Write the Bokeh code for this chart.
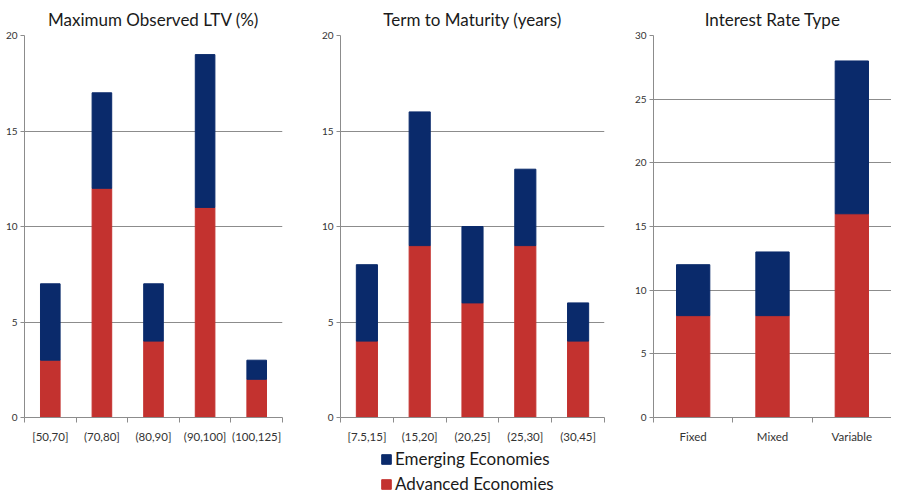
from bokeh.plotting import figure
from bokeh.models import (FactorRange, Range1d, LinearAxis, CategoricalAxis, FixedTicker,
                          SingleIntervalTicker, ColumnDataSource, Legend, LegendItem)
from bokeh.layouts import column, row
from bokeh.embed import file_html
from bokeh.resources import INLINE

# ---------------- data ----------------
ltv_cats = ["[50,70]", "(70,80]", "(80,90]", "(90,100]", "(100,125]"]
ltv_advanced = [3, 12, 4, 11, 2]
ltv_emerging = [4, 5, 3, 8, 1]

term_cats = ["[7.5,15]", "(15,20]", "(20,25]", "(25,30]", "(30,45]"]
term_advanced = [4, 9, 6, 9, 4]
term_emerging = [4, 7, 4, 4, 2]

rate_cats = ["Fixed", "Mixed", "Variable"]
rate_advanced = [8, 8, 16]
rate_emerging = [4, 5, 12]

titles = ["Maximum Observed LTV (%)", "Term to Maturity (years)", "Interest Rate Type"]
y_max = [20, 20, 30]
y_step = 5
series_labels = ["Emerging Economies", "Advanced Economies"]

# ---------------- style ----------------
RED = "#C3322F"
BLUE = "#0A2A6B"
GREY = "#8C8C8C"
FONT = "Lato"
FRAME_H = 382
TOP = 33
BOTTOM = 20


def panel(title, cats, adv, emg, ymax, frame_w, left, right, bar_w):
    p = figure(x_range=FactorRange(*cats), y_range=Range1d(0, ymax),
               frame_width=frame_w, frame_height=FRAME_H,
               min_border_left=left, min_border_right=right,
               min_border_top=TOP, min_border_bottom=BOTTOM,
               x_axis_type=None, toolbar_location=None, output_backend="svg",
               title=title)
    p.outline_line_color = None
    p.background_fill_color = "white"
    p.border_fill_color = "white"

    src = ColumnDataSource(dict(cat=cats, adv=adv, emg=emg))
    p.vbar_stack(["adv", "emg"], x="cat", width=bar_w, source=src,
                 color=[RED, BLUE])

    # y axis
    yt = SingleIntervalTicker(interval=y_step, num_minor_ticks=0)
    p.yaxis.ticker = yt
    p.ygrid.ticker = yt
    p.yaxis.axis_line_color = GREY
    p.yaxis.major_tick_line_color = GREY
    p.yaxis.major_tick_out = 4
    p.yaxis.major_tick_in = 0
    p.yaxis.minor_tick_line_color = None
    p.yaxis.major_label_standoff = 3
    p.yaxis.major_label_text_font = FONT
    p.yaxis.major_label_text_font_size = "10px"
    p.yaxis.major_label_text_color = "#333333"
    p.ygrid.grid_line_color = GREY
    p.ygrid.grid_line_width = 1

    # boundary ticks between categories (synthetic coordinates of the factor range),
    # drawn as minor ticks so that this axis carries no labels
    edge_axis = LinearAxis(ticker=FixedTicker(ticks=[], minor_ticks=list(range(len(cats) + 1))),
                           major_label_standoff=0,
                           major_tick_line_color=None,
                           minor_tick_out=5, minor_tick_in=0,
                           axis_line_color=GREY, minor_tick_line_color=GREY)
    p.add_layout(edge_axis, "below")
    cat_axis = CategoricalAxis(axis_line_color=None, major_tick_line_color=None,
                               minor_tick_line_color=None,
                               major_label_standoff=1,
                               major_label_text_font=FONT,
                               major_label_text_font_size="11.5px",
                               major_label_text_color="#333333")
    p.add_layout(cat_axis, "below")

    p.title.text_font = FONT
    p.title.text_font_size = "17px"
    p.title.text_font_style = "normal"
    p.title.text_color = "#1a1a1a"
    p.title.align = "center"
    p.title.standoff = 12
    return p


f1 = panel(titles[0], ltv_cats, ltv_advanced, ltv_emerging, y_max[0], 258, 24, 14, 0.38)
f2 = panel(titles[1], term_cats, term_advanced, term_emerging, y_max[1], 264, 44, 12, 0.40)
f3 = panel(titles[2], rate_cats, rate_advanced, rate_emerging, y_max[2], 238, 37, 0, 0.42)

# legend strip (its renderers hold a single empty value, so nothing is drawn but the key)
lg = figure(width=891, height=49, toolbar_location=None, output_backend="svg",
            min_border=0, x_axis_type=None, y_axis_type=None)
lg.outline_line_color = None
key_src = ColumnDataSource(dict(x=[0], top=[float("nan")]))
r_emg = lg.vbar(x="x", top="top", width=1, source=key_src, color=BLUE)
r_adv = lg.vbar(x="x", top="top", width=1, source=key_src, color=RED)
legend = Legend(items=[LegendItem(label=series_labels[0], renderers=[r_emg]),
                       LegendItem(label=series_labels[1], renderers=[r_adv])],
                location=(380, 0), orientation="vertical", padding=0, margin=0,
                spacing=4, glyph_width=12, glyph_height=12, label_standoff=3,
                label_height=18,
                label_text_font=FONT, label_text_font_size="17px",
                label_text_color="#1a1a1a",
                border_line_color=None, background_fill_alpha=0)
lg.add_layout(legend)

layout = column(row(f1, f2, f3), lg)
open("out.html", "w").write(file_html(layout, INLINE))
